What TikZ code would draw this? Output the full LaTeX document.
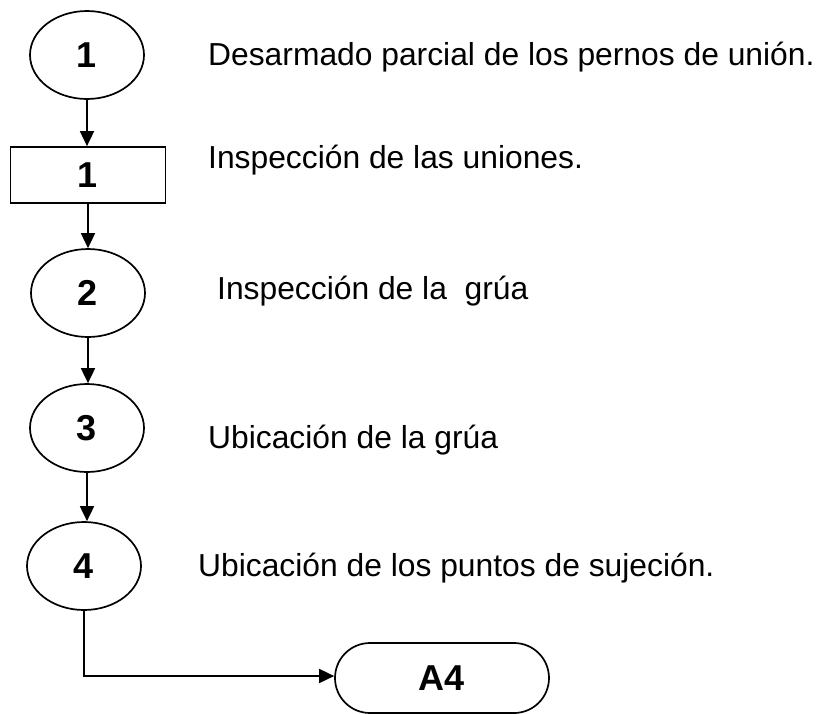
\documentclass[tikz,border=0pt]{standalone}
\usepackage{fontspec}
\setmainfont{Liberation Sans}
\usetikzlibrary{shapes.geometric,shapes.misc,arrows.meta}
\begin{document}
\begin{tikzpicture}[x=1pt,y=-1pt,
  shp/.style={draw=black,line width=1.7pt,inner sep=0pt,font=\fontsize{36}{40}\selectfont\bfseries},
  ell/.style={shp,ellipse,minimum width=114pt,minimum height=88pt},
  box/.style={shp,rectangle,minimum width=155pt,minimum height=56pt},
  term/.style={shp,rounded rectangle,minimum width=214pt,minimum height=70pt},
  arr/.style={line width=1.7pt,-{Triangle[length=15pt,width=14pt]}},
  lbl/.style={anchor=base west,inner sep=0pt,font=\fontsize{31.8}{38}\selectfont}]
\useasboundingbox (0,0) rectangle (822,713);
\node[ell] (e1) at (87,55) {1};
\node[box] (r1) at (88,175) {1};
\node[ell] (e2) at (88,293) {2};
\node[ell] (e3) at (87,428) {3};
\node[ell] (e4) at (84,566) {4};
\node[term] (a4) at (442,678) {\raisebox{-4pt}{A4}};
\draw[arr] (e1.south) -- (e1.south |- r1.north);
\draw[arr] (r1.south) -- (r1.south |- e2.north);
\draw[arr] (e2.south) -- (e2.south |- e3.north);
\draw[arr] (e3.south) -- (e3.south |- e4.north);
\draw[arr] (e4.south) |- ([yshift=2pt]a4.west);
\node[lbl] (t1) at (208,65) {Desarmado parcial de los pernos de unión.};
\node[lbl] (t2) at (208,168) {Inspección de las uniones.};
\node[lbl] (t3) at (217,299) {Inspección de la\ \ grúa};
\node[lbl] (t4) at (208,448) {Ubicación de la grúa};
\node[lbl] (t5) at (198,576) {Ubicación de los puntos de sujeción.};
\end{tikzpicture}
\end{document}
